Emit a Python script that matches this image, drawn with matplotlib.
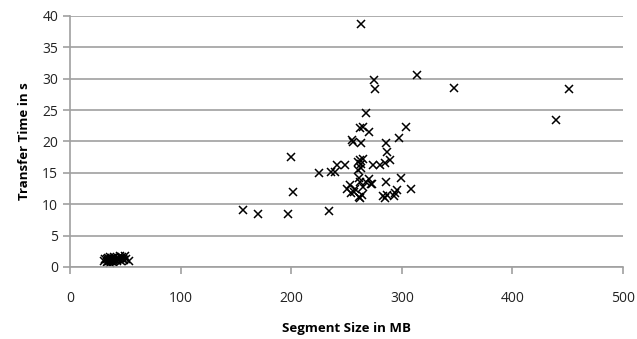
import matplotlib.pyplot as plt

# small segments (tight cluster near the origin)
small_size = [31, 32, 33, 33, 34, 34, 35, 35, 36, 36, 37, 37, 38, 38, 39, 40,
              40, 41, 42, 42, 43, 44, 45, 46, 46, 47, 48, 49, 50, 51, 53, 36, 39]
small_time = [1.0, 1.3, 0.8, 1.2, 1.0, 1.5, 0.9, 1.2, 1.1, 0.7, 1.3, 1.0, 0.9, 1.4, 1.2, 1.0,
              1.6, 1.1, 1.3, 0.9, 1.5, 1.2, 1.8, 1.0, 1.4, 1.6, 1.2, 1.1, 1.7, 1.3, 1.0, 1.6, 0.8]

# large segments
large_size = [156, 170, 197, 200, 202, 225, 234, 236, 240,
              241, 249, 253, 250, 254, 257, 255,
              256, 263, 262, 265, 262, 263, 263, 268, 270, 272, 263, 275, 276,
              262, 265, 261, 268, 270, 273, 261, 264, 262, 260,
              274, 280, 285, 289, 286, 287, 286,
              283, 287, 294, 296, 293, 285, 299, 308, 297, 304,
              314, 347, 439, 451, 265, 260, 258]
large_time = [9.1, 8.5, 8.4, 17.5, 12.0, 15.0, 8.9, 15.1, 15.1,
              16.2, 16.2, 13.0, 12.5, 11.8, 12.0, 20.2,
              19.9, 19.7, 22.2, 22.3, 17.0, 16.4, 15.8, 24.5, 21.5, 13.3, 38.7, 29.8, 28.4,
              13.5, 12.8, 14.1, 13.5, 14.0, 13.3, 11.2, 11.5, 11.0, 15.5,
              16.2, 16.2, 16.5, 17.0, 19.7, 18.3, 13.6,
              11.3, 11.5, 11.8, 12.2, 11.3, 11.0, 14.2, 12.5, 20.6, 22.3,
              30.6, 28.5, 23.4, 28.3, 17.2, 16.8, 12.4]

plt.rcParams['font.family'] = ['Open Sans', 'DejaVu Sans']

fig = plt.figure(figsize=(6.37, 3.39), dpi=100)
ax = fig.add_axes([0.110, 0.2124, 0.868, 0.7406])

ax.plot(small_size + large_size, small_time + large_time, 'x', color='black',
        markersize=6, markeredgewidth=1.1)

ax.set_xlim(0, 500)
ax.set_ylim(0, 40)
ax.set_xticks(range(0, 501, 100))
ax.set_yticks(range(0, 41, 5))
ax.yaxis.grid(True, color='#a0a0a0', linewidth=1.2)
ax.set_axisbelow(True)

for s in ['top', 'right']:
    ax.spines[s].set_visible(False)
for s in ['left', 'bottom']:
    ax.spines[s].set_color('#a0a0a0')
    ax.spines[s].set_linewidth(1.2)
ax.tick_params(axis='both', colors='#a0a0a0', labelcolor='#222222',
               labelsize=10, length=5, width=1.2)
ax.tick_params(axis='x', pad=12)

ax.set_xlabel('Segment Size in MB', fontsize=9.5, fontweight='bold', labelpad=12)
ax.set_ylabel('Transfer Time in s', fontsize=9.5, fontweight='bold', labelpad=8)

fig.savefig('out.png', dpi=100)
